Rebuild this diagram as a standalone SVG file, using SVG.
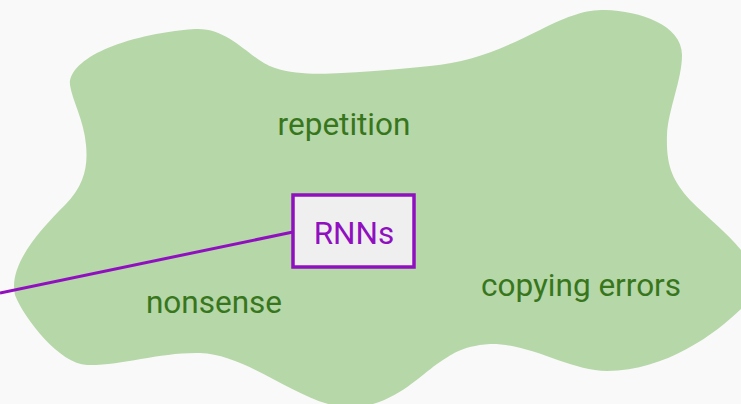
<svg xmlns="http://www.w3.org/2000/svg" width="741" height="404" viewBox="0 0 741 404">
<style>
.lbl{font-family:Roboto,"Liberation Sans",sans-serif;font-size:31.5px;fill:#38761d;text-anchor:middle}
.node rect{fill:#efefef;stroke:#9010c0;stroke-width:3.5}
.node text{font-family:Roboto,"Liberation Sans",sans-serif;font-size:31.5px;fill:#9010c0;text-anchor:middle}
.conn{stroke:#9010c0;stroke-width:3;fill:none}
</style>
<rect width="741" height="404" fill="#f9f9f9"/>
<g id="blob">
<path fill="#b6d7a8" d="M 70,85 C 68,60 120,35 195,29 C 230,27 250,60 275,68 C 300,77 340,73 360,72 C 390,70 410,68 430,66 C 470,62 500,50 540,30 C 570,15 585,10 605,10 C 640,11 682,25 682,55 C 682,80 668,110 667,135 C 666,165 672,180 690,200 C 710,220 730,235 745,255 L 745,305 C 720,330 670,370 607,371 C 570,371 530,343 490,344 C 460,346 450,356 440,362 C 420,375 390,410 345,407 C 300,404 250,355 200,353 C 160,352 120,366 87,365 C 60,364 25,320 15,295 C 8,265 40,230 65,205 C 85,185 88,165 86,145 C 84,120 72,100 70,85 Z"/>
<text class="lbl" x="344" y="135">repetition</text>
<text class="lbl" x="214" y="313">nonsense</text>
<text class="lbl" x="581" y="296">copying errors</text>
</g>
<g id="connectors">
<line class="conn" x1="0" y1="293" x2="293" y2="232"/>
</g>
<g id="rnns" class="node">
<rect x="293" y="195" width="121" height="72"/>
<text x="354" y="244">RNNs</text>
</g>
</svg>
